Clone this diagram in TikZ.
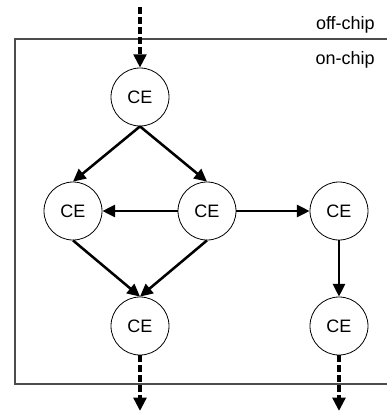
\documentclass[tikz,border=0pt]{standalone}
\usepackage{fontspec}
\setmainfont{Liberation Sans}
\usetikzlibrary{arrows.meta,positioning}

\begin{document}
\begin{tikzpicture}[
	x=0.75pt, y=-0.75pt,
	ce/.style = {shape=circle, draw, line width=0.6pt, minimum size=43.5pt, inner sep=0pt,
	font=\fontsize{13.5}{16}\selectfont},
	chiplabel/.style = {anchor=east, inner sep=0pt, font=\fontsize{13.5}{16}\selectfont},
	flow/.style = {-{Triangle[length=9.5pt,width=9pt]}, line width=1.9pt},
	offchip/.style = {-{Triangle[length=10pt,width=9.5pt]}, line width=2.8pt,
	dash pattern=on 5pt off 2.5pt}
]
\useasboundingbox (0,0) rectangle (387,412);

% chip boundary
\draw[black!70, line width=0.8pt] (387,39) -- (15,39) -- (15,384) -- (387,384);
\node[chiplabel] (off) at (375,25) {off-chip};
\node[chiplabel] (on) at (375,60) {on-chip};

% compute elements
\node[ce] (top) at (140,97) {CE};
\node[ce] (left) at (73,211) {CE};
\node[ce] (mid) at (207,211) {CE};
\node[ce] (right) at (339,211) {CE};
\node[ce] (bl) at (140,326) {CE};
\node[ce] (br) at (339,326) {CE};

\coordinate (in) at (140,7);
\coordinate (outl) at (140,411);
\coordinate (outr) at (339,411);

\draw[offchip] (in) -- (top.north);
\draw[flow] (top.south) -- (left.north);
\draw[flow] (top.south) -- (mid.north);
\draw[flow] (mid) -- (left);
\draw[flow] (mid) -- (right);
\draw[flow] (left.south) -- (bl.north);
\draw[flow] (mid.south) -- (bl.north);
\draw[flow] (right) -- (br);
\draw[offchip] (bl.south) -- (outl);
\draw[offchip] (br.south) -- (outr);
\end{tikzpicture}
\end{document}
